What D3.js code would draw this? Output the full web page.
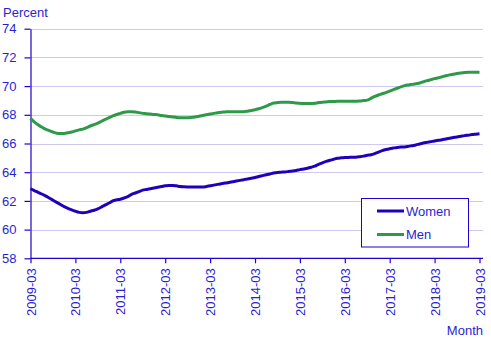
<!DOCTYPE html>
<html><head><meta charset="utf-8">
<script src="https://cdn.jsdelivr.net/npm/d3@7"></script>
<style>
html,body{margin:0;padding:0;background:#fff;}
svg{display:block;font-family:"Liberation Sans",Arial,sans-serif;}
</style></head>
<body><svg id="chart" width="491" height="340"></svg>
<script>
// Monthly series, 2009-03 .. 2019-03 (121 months)
const startMonth = "2009-03";
const tickLabels = ["2009-03","2010-03","2011-03","2012-03","2013-03","2014-03","2015-03","2016-03","2017-03","2018-03","2019-03"];
const yTicks = [58,60,62,64,66,68,70,72,74];
const women = [
62.85,62.72,62.6,62.48,62.35,62.2,62.05,61.9,61.75,61.6,
61.48,61.38,61.28,61.2,61.17,61.2,61.28,61.35,61.45,61.58,61.72,61.85,
62.0,62.07,62.12,62.2,62.3,62.45,62.55,62.65,62.75,62.8,62.85,62.9,
62.95,63.0,63.05,63.08,63.08,63.05,63.0,62.98,62.97,62.97,62.97,62.97,
62.97,63.0,63.05,63.1,63.15,63.2,63.24,63.28,63.33,63.38,63.43,63.48,
63.53,63.58,63.63,63.7,63.76,63.82,63.88,63.94,63.98,64.0,64.02,64.05,
64.08,64.12,64.18,64.22,64.28,64.35,64.42,64.55,64.65,64.75,64.83,64.9,
64.97,65.0,65.02,65.03,65.05,65.05,65.08,65.12,65.18,65.22,65.3,65.4,
65.5,65.58,65.64,65.68,65.72,65.75,65.76,65.8,65.85,65.9,65.97,66.03,
66.08,66.13,66.18,66.22,66.26,66.32,66.37,66.42,66.45,66.5,66.55,66.58,
66.62,66.65,66.68];
const men = [
67.75,67.5,67.3,67.15,67.0,66.9,66.8,66.72,66.7,66.7,
66.75,66.8,66.88,66.95,67.0,67.1,67.22,67.32,67.42,67.55,67.68,67.8,
67.92,68.02,68.1,68.18,68.22,68.22,68.2,68.15,68.1,68.08,68.05,68.02,
68.0,67.95,67.92,67.88,67.85,67.82,67.8,67.8,67.8,67.82,67.85,67.9,
67.95,68.0,68.05,68.1,68.15,68.18,68.2,68.22,68.22,68.22,68.22,68.22,
68.25,68.3,68.35,68.42,68.5,68.6,68.72,68.82,68.85,68.87,68.87,68.87,
68.85,68.82,68.8,68.78,68.78,68.78,68.8,68.85,68.88,68.9,68.92,68.93,
68.94,68.94,68.94,68.94,68.94,68.94,68.96,68.99,69.02,69.15,69.28,69.38,
69.47,69.55,69.65,69.75,69.85,69.95,70.03,70.08,70.12,70.16,70.22,70.3,
70.38,70.45,70.52,70.58,70.65,70.72,70.78,70.83,70.88,70.92,70.95,70.96,
70.96,70.96,70.96];
const seriesNames = ["Women","Men"];
const seriesColors = ["#2000bb","#2e9a48"];

const textColor = "#2a1fcf";
const axisColor = "#2000cc";
const gridColor = "#cdc9ef";

const svg = d3.select("#chart");
const x = d3.scaleLinear().domain([0, women.length - 1]).range([30.5, 479.5]);
const y = d3.scaleLinear().domain([58, 74]).range([258.3, 28.7]);
const plotRight = 483;

// grid
svg.append("g").selectAll("line").data(yTicks.filter(d => d > 58)).join("line")
  .attr("x1", 31).attr("x2", plotRight)
  .attr("y1", d => Math.round(y(d)) + 0.5).attr("y2", d => Math.round(y(d)) + 0.5)
  .attr("stroke", gridColor).attr("stroke-width", 1);

// y axis
const yAxis = svg.append("g").attr("transform", "translate(30.5,0)")
  .call(d3.axisLeft(y).tickValues(yTicks).tickFormat(d3.format("d")).tickSize(6).tickPadding(8).tickSizeOuter(0));
yAxis.select(".domain").attr("stroke", axisColor).attr("stroke-width", 1.2);
yAxis.selectAll(".tick line").attr("stroke", axisColor).attr("stroke-width", 1.2);
yAxis.selectAll(".tick text").attr("fill", textColor).style("font-size", "13px")
  .style("font-family", "'Liberation Sans',Arial,sans-serif");

// x axis
const tickIdx = tickLabels.map((d, i) => i * 12);
const xAxis = svg.append("g").attr("transform", "translate(0,258.3)")
  .call(d3.axisBottom(x).tickValues(tickIdx).tickFormat((d, i) => tickLabels[i]).tickSize(5).tickSizeOuter(0));
xAxis.select(".domain").attr("d", `M30.5,0H${plotRight}`).attr("stroke", axisColor).attr("stroke-width", 1.2);
xAxis.selectAll(".tick line").attr("stroke", axisColor).attr("stroke-width", 1.2);
xAxis.selectAll(".tick text").attr("fill", textColor).style("font-size", "13px")
  .style("font-family", "'Liberation Sans',Arial,sans-serif")
  .attr("transform", "rotate(-90)").attr("text-anchor", "end")
  .attr("x", -10).attr("y", 0).attr("dy", "0.35em");

// axis titles
svg.append("text").attr("x", 3).attr("y", 17).attr("fill", textColor)
  .style("font-size", "13px").text("Percent");
svg.append("text").attr("x", 483).attr("y", 335).attr("text-anchor", "end").attr("fill", textColor)
  .style("font-size", "13px").text("Month");

// lines
const line = d3.line().x((d, i) => x(i)).y(d => y(d)).curve(d3.curveMonotoneX);
[women, men].forEach((s, k) => {
  svg.append("path").datum(s).attr("d", line).attr("fill", "none")
    .attr("stroke", seriesColors[k]).attr("stroke-width", 3).attr("stroke-linejoin", "round");
});

// legend
const lg = svg.append("g");
lg.append("rect").attr("x", 361.5).attr("y", 198.5).attr("width", 107).attr("height", 48.5)
  .attr("fill", "#fff").attr("stroke", axisColor).attr("stroke-width", 1);
seriesNames.forEach((n, k) => {
  const yy = 211 + k * 23.5;
  lg.append("line").attr("x1", 377).attr("x2", 404).attr("y1", yy).attr("y2", yy)
    .attr("stroke", seriesColors[k]).attr("stroke-width", 3);
  lg.append("text").attr("x", 406).attr("y", yy).attr("dy", "0.36em").attr("fill", textColor)
    .style("font-size", "13px").text(n);
});
</script></body></html>
